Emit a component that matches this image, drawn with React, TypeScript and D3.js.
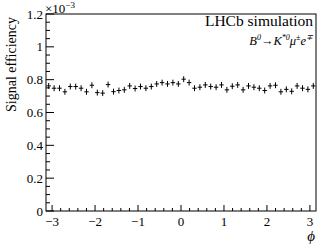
import React from "react";
import * as d3 from "d3";

// efficiency per phi bin (x 1e-3), 50 bins over [-pi, pi]
const efficiency = [
  0.762, 0.748, 0.748, 0.726, 0.758, 0.758, 0.748, 0.726, 0.766, 0.721,
  0.718, 0.770, 0.727, 0.734, 0.738, 0.762, 0.746, 0.758, 0.748, 0.758,
  0.774, 0.782, 0.774, 0.782, 0.774, 0.803, 0.782, 0.748, 0.754, 0.768,
  0.758, 0.754, 0.768, 0.738, 0.760, 0.768, 0.738, 0.762, 0.754, 0.748,
  0.734, 0.762, 0.766, 0.726, 0.741, 0.729, 0.762, 0.748, 0.741, 0.762,
];
const errors = efficiency.map(() => 0.018);

const xTicks = [-3, -2, -1, 0, 1, 2, 3];
const yTicks = [0, 0.2, 0.4, 0.6, 0.8, 1, 1.2];

const width = 332;
const height = 246;
const margin = { top: 14, right: 16, bottom: 35, left: 46 };
const tx = { fontFamily: "Liberation Serif" };

const App = () => {
  const x = d3
    .scaleLinear()
    .domain([-Math.PI, Math.PI])
    .range([margin.left, width - margin.right]);
  const y = d3
    .scaleLinear()
    .domain([0, 1.2])
    .range([height - margin.bottom, margin.top]);

  const nBins = efficiency.length;
  const binW = (2 * Math.PI) / nBins;
  const fmt = d3.format("~g");

  const xMinor = d3.range(-3, 3.001, 0.2).filter((v) => Math.abs(v - Math.round(v)) > 0.01);
  const yMinor = d3.range(0, 1.2001, 0.05).filter((v) => Math.abs(v * 5 - Math.round(v * 5)) > 0.01);

  const y0 = y(0);
  const x0 = x.range()[0];

  return (
    <svg
      width={width}
      height={height}
      style={{ position: "absolute", top: 0, left: 0, background: "white" }}
    >
      <rect
        x={x.range()[0]}
        y={y(1.2)}
        width={x.range()[1] - x.range()[0]}
        height={y(0) - y(1.2)}
        fill="none"
        stroke="black"
        strokeWidth={1}
      />

      {/* x axis ticks */}
      {xTicks.map((t) => (
        <g key={"xt" + t}>
          <line x1={x(t)} x2={x(t)} y1={y0} y2={y0 - 6} stroke="black" />
          <text x={x(t)} y={y0 + 15} textAnchor="middle" fontSize={13} style={tx}>
            {fmt(t)}
          </text>
        </g>
      ))}
      {xMinor.map((t, i) => (
        <line key={"xm" + i} x1={x(t)} x2={x(t)} y1={y0} y2={y0 - 3} stroke="black" />
      ))}
      <text x={x.range()[1] - 1} y={height - 5} textAnchor="end" fontSize={15} fontStyle="italic" style={tx}>
        ϕ
      </text>

      {/* y axis ticks */}
      {yTicks.map((t) => (
        <g key={"yt" + t}>
          <line x1={x0} x2={x0 + 8} y1={y(t)} y2={y(t)} stroke="black" />
          <text x={x0 - 3} y={y(t) + 4.5} textAnchor="end" fontSize={13} style={tx}>
            {fmt(t)}
          </text>
        </g>
      ))}
      {yMinor.map((t, i) => (
        <line key={"ym" + i} x1={x0} x2={x0 + 4} y1={y(t)} y2={y(t)} stroke="black" />
      ))}
      <text x={x0 - 1} y={y(1.2) - 1} fontSize={13} style={tx}>
        ×10
        <tspan dy={-5} fontSize={9}>
          −3
        </tspan>
      </text>
      <text
        transform={`translate(16, ${margin.top + 3}) rotate(-90)`}
        textAnchor="end"
        fontSize={14}
        style={tx}
      >
        Signal efficiency
      </text>

      {/* data points */}
      {efficiency.map((v, i) => {
        const lo = -Math.PI + i * binW;
        const c = lo + binW / 2;
        return (
          <g key={"p" + i} stroke="black" strokeWidth={1}>
            <line x1={x(lo) + 0.5} x2={x(lo + binW) - 0.5} y1={y(v)} y2={y(v)} />
            <line x1={x(c)} x2={x(c)} y1={y(v - errors[i])} y2={y(v + errors[i])} />
          </g>
        );
      })}

      {/* labels */}
      <text x={313} y={26} textAnchor="end" fontSize={15.5} style={tx}>
        LHCb simulation
      </text>
      <text x={313} y={45} textAnchor="end" fontSize={12.5} fontStyle="italic" style={tx}>
        B<tspan dy={-5} fontSize={8}>0</tspan>
        <tspan dy={5}>→K</tspan>
        <tspan dy={-5} fontSize={8}>*0</tspan>
        <tspan dy={5}>μ</tspan>
        <tspan dy={-5} fontSize={8}>±</tspan>
        <tspan dy={5}>e</tspan>
        <tspan dy={-5} fontSize={8}>∓</tspan>
      </text>
    </svg>
  );
};

export default App;
